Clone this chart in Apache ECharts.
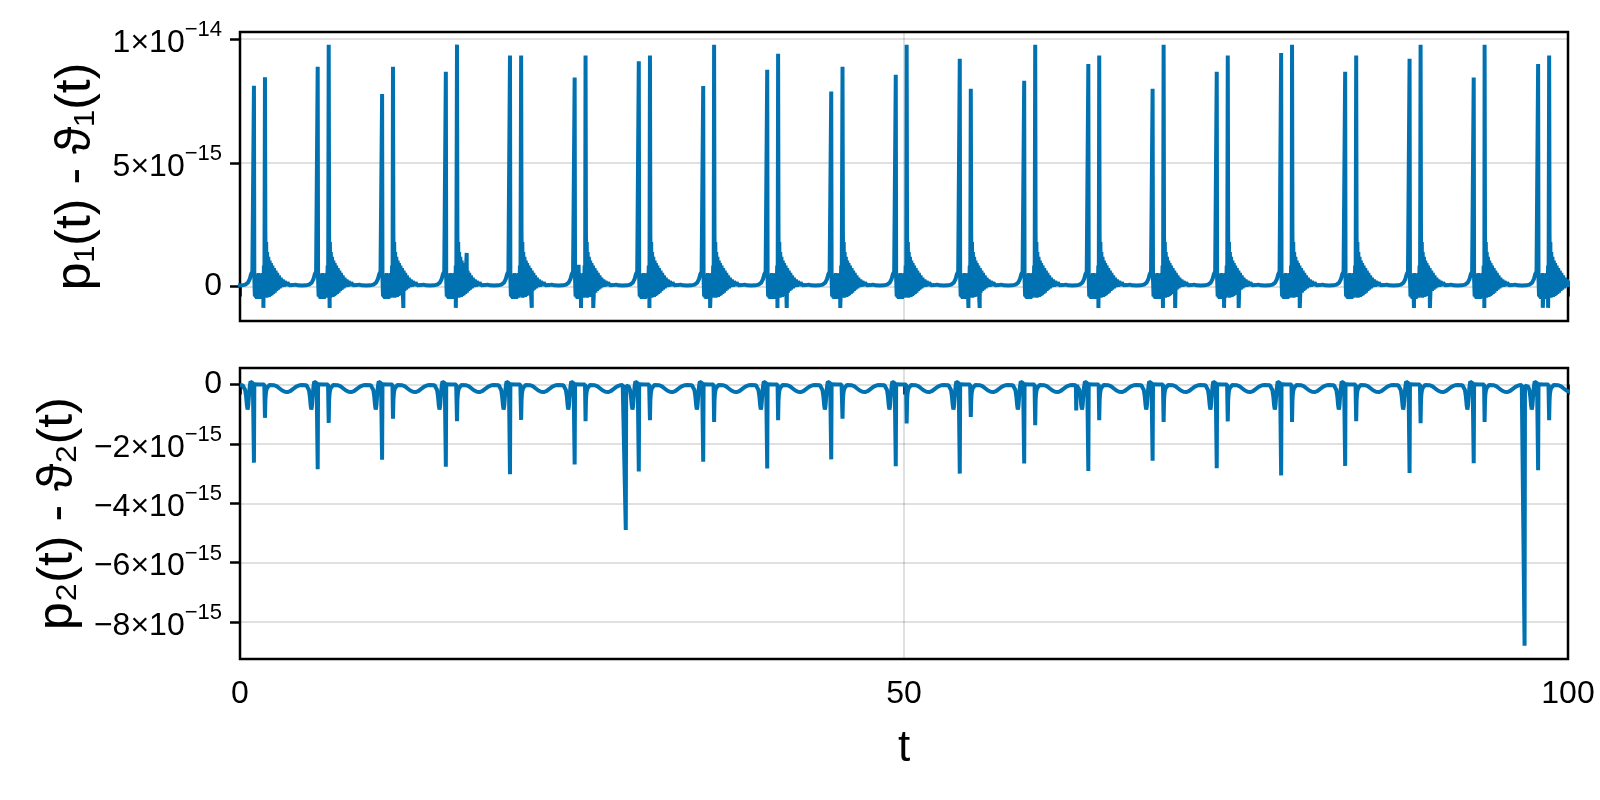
<!DOCTYPE html>
<html>
<head>
<meta charset="utf-8">
<script src="https://cdn.jsdelivr.net/npm/echarts@6/dist/echarts.min.js"></script>
<style>html,body{margin:0;padding:0;background:#fff}#c{width:1600px;height:800px}</style>
</head>
<body>
<div id="c"></div>
<script>
const FONT = '"Liberation Sans", "DejaVu Sans", Arial, sans-serif';
// all y values are in units of 1e-15
const xTicks = [0, 50, 100];
const yTicks1 = [0, 5, 10];
const yTicks2 = [-8, -6, -4, -2, 0];

// times of the first (t0) and second (t1) event of each cycle
const t0 = [1.05, 5.85, 10.7, 15.5, 20.33, 25.2, 30.03, 34.88, 39.7, 44.52, 49.38, 54.2, 59.05, 63.88, 68.72, 73.55, 78.4, 83.22, 88.07, 92.9, 97.75];
const t1 = [1.88, 6.68, 11.52, 16.34, 21.17, 26.02, 30.87, 35.7, 40.52, 45.37, 50.2, 55.03, 59.88, 64.7, 69.55, 74.38, 79.22, 84.05, 88.9, 93.72, 98.58];

// top panel: spike heights
const peakA1 = [8.11, 8.88, 7.78, 8.67, 9.33, 8.44, 9.1, 8.1, 8.76, 7.88, 8.55, 9.2, 8.31, 8.99, 7.99, 8.67, 9.43, 8.67, 9.2, 8.44, 8.99];
const peakB1 = [8.45, 9.77, 8.88, 9.77, 9.33, 9.33, 9.33, 9.77, 9.4, 8.88, 9.77, 7.99, 9.77, 9.33, 9.77, 9.33, 9.77, 9.33, 9.77, 9.77, 9.33];
// bottom panel: dip depths
const dipA2 = [-2.63, -2.85, -2.53, -2.77, -3.02, -2.69, -2.93, -2.6, -2.83, -2.52, -2.75, -3.0, -2.66, -2.91, -2.57, -2.82, -3.06, -2.74, -2.98, -2.65, -2.89];
const dipB2 = [-1.12, -1.29, -1.15, -1.23, -1.19, -1.23, -1.2, -1.26, -1.2, -1.15, -1.31, -1.09, -1.37, -1.2, -1.26, -1.24, -1.26, -1.23, -1.3, -1.26, -1.2];

// cycle shape of the top curve: [offset, value]
const pre1 = [[-1.2, 0.04], [-0.9, 0.05], [-0.65, 0.08], [-0.45, 0.16], [-0.32, 0.3], [-0.22, 0.5], [-0.12, 0.6], [-0.05, 0.55]];
const mid1 = [[0.03, 0.3], [0.07, -0.4], [0.11, 0.5], [0.15, -0.45], [0.19, 0.45], [0.23, -0.5], [0.27, 0.5], [0.31, -0.4], [0.35, 0.55], [0.39, -0.45], [0.43, 0.4], [0.47, -0.5], [0.51, 0.5], [0.55, -0.4], [0.59, 0.45], [0.63, -0.45], [0.67, 0.55], [0.71, -0.35], [0.75, 0.85], [0.79, 0.4]];
const post1 = [[0.03, 2.2], [0.06, -0.4], [0.09, 1.8], [0.12, -0.45], [0.16, 1.4], [0.2, -0.4], [0.25, 1.2], [0.3, -0.42], [0.35, 1.05], [0.4, -0.38], [0.45, 0.95], [0.5, -0.35], [0.56, 0.85], [0.62, -0.3], [0.68, 0.75], [0.74, -0.25], [0.8, 0.65], [0.86, -0.18], [0.92, 0.55], [0.98, -0.12], [1.05, 0.45], [1.12, -0.07], [1.19, 0.36], [1.26, -0.02], [1.34, 0.28], [1.42, 0.0], [1.5, 0.22], [1.6, 0.03], [1.7, 0.16], [1.82, 0.05], [1.95, 0.12], [2.1, 0.06], [2.3, 0.08], [2.5, 0.05]];
// isolated features of the top curve: [t, value]
const extra1 = [[1.76, -0.86], [6.75, -0.86], [12.3, -0.86], [16.25, -0.86], [17.07, 1.36], [21.97, -0.86], [25.5, 0.88], [25.68, -0.86], [26.6, -0.86], [30.83, -0.86], [35.4, -0.86], [40.47, -0.86], [41.17, -0.86], [45.2, -0.86], [54.85, -0.86], [55.7, -0.86], [64.64, -0.86], [69.5, -0.86], [70.42, -0.86], [74.1, -0.86], [75.2, -0.86], [79.8, -0.86], [88.4, -0.86], [89.6, -0.86], [93.7, -0.86], [98.1, -0.86], [98.5, -0.86]];

// cycle shape of the bottom curve
const pre2 = [[-0.85, -0.02], [-0.75, -0.07], [-0.66, -0.18], [-0.59, -0.4], [-0.53, -0.7], [-0.48, -0.84], [-0.43, -0.72], [-0.38, -0.4], [-0.32, -0.08], [-0.26, 0.1], [-0.2, 0.15], [-0.14, 0.12], [-0.08, 0.05], [-0.03, 0.01]];
const mid2 = [[0.03, 0.01], [0.4, 0.0], [0.78, 0.0]];
const post2 = [[0.03, -0.55], [0.06, -0.32], [0.1, -0.2], [0.16, -0.11], [0.24, -0.05], [0.35, -0.01], [0.5, 0.0], [0.7, -0.02], [0.9, -0.06], [1.1, -0.13], [1.3, -0.2], [1.5, -0.24], [1.7, -0.25], [1.9, -0.22], [2.1, -0.15], [2.35, -0.07], [2.6, -0.02], [2.8, -0.01], [2.95, -0.02]];
const extra2 = [[0, -0.02], [29.02, -0.02], [29.05, -4.9], [29.08, -0.03], [62.94, -0.02], [62.97, -0.87], [63.0, -0.02], [96.7, -0.02], [96.73, -8.8], [96.76, -0.03]];

function buildSeries(pkA, pkB, pre, mid, post, extra) {
  const pts = [];
  for (let i = 0; i < t0.length; i++) {
    pre.forEach(p => pts.push([t0[i] + p[0], p[1]]));
    pts.push([t0[i], pkA[i]]);
    mid.forEach(p => pts.push([t0[i] + p[0], p[1]]));
    pts.push([t1[i], pkB[i]]);
    post.forEach(p => pts.push([t1[i] + p[0], p[1]]));
  }
  extra.forEach(p => pts.push([p[0], p[1]]));
  pts.sort((a, b) => a[0] - b[0]);
  return pts.map(p => [+p[0].toFixed(4), p[1]]);
}
const data1 = buildSeries(peakA1, peakB1, pre1, mid1, post1, extra1);
const data2 = buildSeries(dipA2, dipB2, pre2, mid2, post2, extra2);

function sciLabel(v) {
  if (Math.abs(v) < 1e-9) return '{z|0}';
  const e = Math.floor(Math.log10(Math.abs(v)) + 1e-9);
  const m = Math.round(v / Math.pow(10, e));
  const exp = e - 15;
  const mStr = (m < 0 ? '\u2212' : '') + Math.abs(m);
  const eStr = (exp < 0 ? '\u2212' : '') + Math.abs(exp);
  return '{m|' + mStr + '\u00d710}{e|' + eStr + '}';
}
const richY = {
  z: { fontSize: 32, color: '#000', fontFamily: FONT },
  m: { fontSize: 32, color: '#000', fontFamily: FONT, padding: [8, 0, 0, 0], verticalAlign: 'bottom' },
  e: { fontSize: 22, color: '#000', fontFamily: FONT, verticalAlign: 'top' }
};
const gridLine = { show: true, lineStyle: { color: 'rgba(0,0,0,0.12)', width: 2 } };
const tickStyle = { show: true, length: 10, lineStyle: { color: '#000', width: 2.5 } };

function yAxis(gi, min, max, ticks, split, name) {
  return {
    type: 'value', gridIndex: gi, min: min, max: max, splitNumber: split,
    axisLine: { show: false },
    axisTick: Object.assign({ customValues: ticks }, tickStyle),
    axisLabel: { customValues: ticks, formatter: sciLabel, margin: 18, rich: richY, color: '#000' },
    splitLine: gridLine,
    name: name, nameLocation: 'middle', nameGap: 138, nameRotate: 90,
    nameTextStyle: { fontSize: 50, color: '#000', fontFamily: FONT }
  };
}
function xAxis(gi, showLabel) {
  const ax = {
    type: 'value', gridIndex: gi, min: 0, max: 100, interval: 50,
    axisLine: { show: false },
    axisTick: Object.assign({ customValues: xTicks }, tickStyle),
    axisLabel: { show: showLabel, customValues: xTicks, fontSize: 32, color: '#000', margin: 19, fontFamily: FONT },
    splitLine: gridLine
  };
  if (showLabel) {
    ax.name = 't'; ax.nameLocation = 'middle'; ax.nameGap = 68;
    ax.nameTextStyle = { fontSize: 44, color: '#000', fontFamily: FONT };
  }
  return ax;
}
const lineSeries = (idx, data) => ({
  type: 'line', xAxisIndex: idx, yAxisIndex: idx, data: data,
  showSymbol: false, symbol: 'none', clip: true, silent: true,
  lineStyle: { color: '#0072B2', width: 4 }
});

const chart = echarts.init(document.getElementById('c'), null, { renderer: 'canvas' });
chart.setOption({
  animation: false,
  backgroundColor: '#ffffff',
  textStyle: { fontFamily: FONT },
  grid: [
    { left: 240, right: 32, top: 32, height: 289, show: true, borderColor: '#000', borderWidth: 2.5, backgroundColor: 'transparent' },
    { left: 240, right: 32, top: 368, height: 291, show: true, borderColor: '#000', borderWidth: 2.5, backgroundColor: 'transparent' }
  ],
  xAxis: [xAxis(0, false), xAxis(1, true)],
  yAxis: [
    yAxis(0, -1.39, 10.28, yTicks1, 2, 'p\u2081(t) - \u03d1\u2081(t)'),
    yAxis(1, -9.25, 0.56, yTicks2, 5, 'p\u2082(t) - \u03d1\u2082(t)')
  ],
  series: [lineSeries(0, data1), lineSeries(1, data2)]
});
</script>
</body>
</html>
